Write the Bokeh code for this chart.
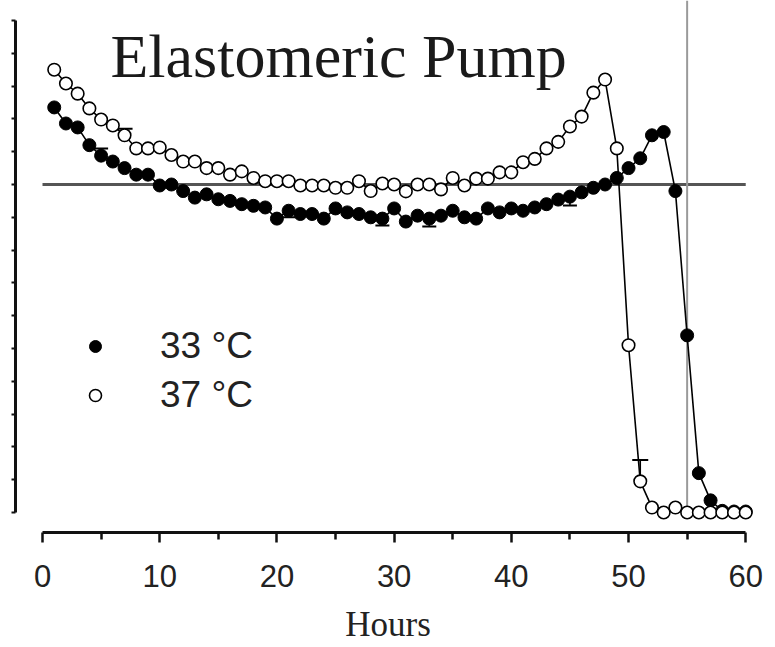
from bokeh.plotting import figure
from bokeh.models import (FixedTicker, Label, Legend, LegendItem, ColumnDataSource, Range1d,
                          CustomLabelingPolicy)
from bokeh.embed import file_html
from bokeh.resources import INLINE

# ---------------- data ----------------
hours = [1, 2, 3, 4, 5, 6, 7, 8, 9, 10,
         11, 12, 13, 14, 15, 16, 17, 18, 19, 20,
         21, 22, 23, 24, 25, 26, 27, 28, 29, 30,
         31, 32, 33, 34, 35, 36, 37, 38, 39, 40,
         41, 42, 43, 44, 45, 46, 47, 48, 49, 50,
         51, 52, 53, 54, 55, 56, 57, 58, 59, 60]

flow_33 = [123.5, 118.6, 117.4, 112.0, 108.8, 107.0, 105.0, 103.0, 103.0, 99.7,
           100.0, 98.0, 96.0, 97.0, 95.5, 95.0, 94.0, 93.5, 93.0, 89.6,
           92.0, 91.0, 91.0, 89.6, 92.7, 91.5, 91.0, 90.0, 89.6, 92.7,
           88.7, 90.5, 89.6, 90.5, 92.0, 90.0, 89.6, 92.7, 91.5, 92.7,
           92.0, 93.0, 94.0, 95.4, 96.3, 97.6, 99.0, 100.0, 102.0, 105.0,
           108.0, 115.0, 116.0, 98.0, 54.0, 12.0, 3.7, 0.5, 0.3, 0.3]

flow_37 = [135.0, 130.8, 127.7, 123.2, 119.8, 118.0, 115.0, 111.0, 111.0, 111.3,
           109.0, 107.0, 107.0, 105.0, 105.0, 103.0, 104.0, 102.0, 101.0, 101.0,
           101.0, 99.7, 99.7, 99.7, 99.0, 99.0, 101.0, 98.0, 100.3, 100.0,
           97.9, 100.0, 100.0, 98.5, 102.0, 99.7, 101.8, 101.8, 103.7, 103.7,
           106.8, 107.8, 111.0, 113.0, 117.7, 120.7, 128.0, 132.0, 111.0, 51.0,
           9.5, 1.5, 0.0, 1.5, 0.0, 0.0, 0.0, 0.0, 0.0, 0.0]

# one-sided error bars (hour, end of bar)
err33_hours = [5, 21, 29, 33, 45]
err33_end = [111.0, 90.0, 87.5, 87.2, 93.6]
err37_hours = [7, 51]
err37_end = [117.0, 16.0]

x_ticks = [0, 10, 20, 30, 40, 50, 60]
x_minor_ticks = [5, 15, 25, 35, 45, 55]
y_ticks = [0, 10, 20, 30, 40, 50, 60, 70, 80, 90, 100, 110, 120, 130, 140, 150]

nominal_rate = 100
nominal_hours = 55
series_labels = ["33 °C", "37 °C"]
chart_title = "Elastomeric Pump"
x_label = "Hours"

Y_TOP = 156.1

# ---------------- figure ----------------
p = figure(frame_width=745, frame_height=532,
           x_range=Range1d(-2.304, 61.26), y_range=Range1d(-6.1, Y_TOP),
           output_backend="svg", toolbar_location=None,
           min_border_left=15, min_border_right=10, min_border_top=0, min_border_bottom=0)
p.outline_line_color = None
p.xgrid.visible = False
p.ygrid.visible = False
p.background_fill_color = "white"
p.border_fill_color = "white"

# x axis
xa = p.xaxis[0]
xa.bounds = (x_ticks[0], x_ticks[-1])
xa.ticker = FixedTicker(ticks=x_ticks, minor_ticks=x_minor_ticks)
xa.axis_line_width = 3
xa.axis_line_color = "#111111"
xa.major_tick_out = 10
xa.major_tick_in = 0
xa.minor_tick_out = 7
xa.minor_tick_in = 0
xa.major_tick_line_width = 2.5
xa.minor_tick_line_width = 2.5
xa.major_tick_line_color = "#111111"
xa.minor_tick_line_color = "#111111"
xa.major_label_text_font = "Liberation Sans"
xa.major_label_text_font_size = "31px"
xa.major_label_text_color = "#222222"
xa.major_label_standoff = 22
xa.axis_label = x_label
xa.axis_label_text_font = "Liberation Serif"
xa.axis_label_text_font_size = "35px"
xa.axis_label_text_font_style = "normal"
xa.axis_label_text_color = "#222222"
xa.axis_label_standoff = 15

# y axis (ticks only, no labels)
ya = p.yaxis[0]
ya.bounds = (y_ticks[0], y_ticks[-1])
ya.ticker = FixedTicker(ticks=y_ticks, minor_ticks=[])
ya.axis_line_width = 3
ya.axis_line_color = "#111111"
ya.major_tick_out = 4
ya.major_tick_in = 0
ya.minor_tick_out = 0
ya.minor_tick_in = 0
ya.major_tick_line_width = 2
ya.major_tick_line_color = "#111111"
ya.major_label_standoff = 0
ya.major_label_text_font_size = "1px"
ya.major_label_policy = CustomLabelingPolicy(code="if (false) { yield 0 }")

# reference lines
p.segment(x0=x_ticks[0], x1=x_ticks[-1], y0=nominal_rate, y1=nominal_rate,
          line_color="#555555", line_width=3)
p.segment(x0=nominal_hours, x1=nominal_hours, y0=y_ticks[0], y1=Y_TOP,
          line_color="#9a9a9a", line_width=2)

src33 = ColumnDataSource(dict(h=hours, v=flow_33))
src37 = ColumnDataSource(dict(h=hours, v=flow_37))

e33 = ColumnDataSource(dict(h=err33_hours, m=[flow_33[hours.index(h)] for h in err33_hours], e=err33_end))
e37 = ColumnDataSource(dict(h=err37_hours, m=[flow_37[hours.index(h)] for h in err37_hours], e=err37_end))

p.line('h', 'v', source=src33, line_color="black", line_width=1.6)
p.segment(x0='h', y0='m', x1='h', y1='e', source=e33, line_color="black", line_width=1.6)
p.scatter('h', 'e', source=e33, marker="dash", size=14, line_color="black", line_width=2)
r33 = p.scatter('h', 'v', source=src33, marker="circle", size=13,
                fill_color="black", line_color="black", line_width=1)

p.line('h', 'v', source=src37, line_color="black", line_width=1.6)
p.segment(x0='h', y0='m', x1='h', y1='e', source=e37, line_color="black", line_width=1.6)
p.scatter('h', 'e', source=e37, marker="dash", size=16, line_color="black", line_width=2)
r37 = p.scatter('h', 'v', source=src37, marker="circle", size=12.5,
                fill_color="white", line_color="black", line_width=1.6)

# title inside plot
p.add_layout(Label(x=5.8, y=139.3, text=chart_title, text_font="Liberation Serif",
                   text_font_size="62px", text_color="#1a1a1a", text_baseline="alphabetic"))

legend = Legend(items=[LegendItem(label=series_labels[0], renderers=[r33]),
                       LegendItem(label=series_labels[1], renderers=[r37])],
                location=(65, 116), border_line_color=None, background_fill_alpha=0,
                padding=0, margin=0, spacing=7, glyph_width=30, glyph_height=40,
                label_height=40, label_standoff=50, label_text_font="Liberation Sans",
                label_text_font_size="37px", label_text_color="#222222")
p.add_layout(legend)

open("out.html", "w").write(file_html(p, INLINE))
